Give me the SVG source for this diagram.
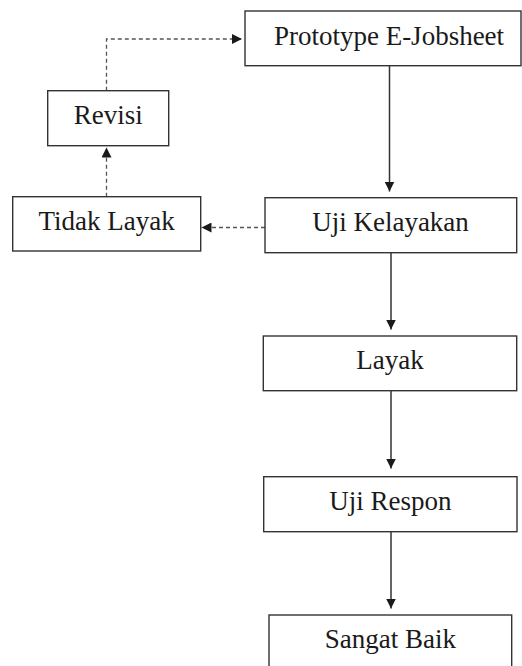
<svg xmlns="http://www.w3.org/2000/svg" width="522" height="666" viewBox="0 0 522 666">
<defs>
<marker id="ah" markerWidth="10" markerHeight="10" refX="10" refY="5" orient="auto" markerUnits="userSpaceOnUse" viewBox="0 0 10 10">
<path d="M0,0 L10,5 L0,10 Z" fill="#1a1a1a"/>
</marker>
<style>
.box{fill:#fff;stroke:#333;stroke-width:1.4}
.lbl{font-family:"Liberation Serif","Times New Roman",serif;font-size:27px;fill:#1a1a1a;text-anchor:middle}
.solid{fill:none;stroke:#333;stroke-width:1.5}
.dash{fill:none;stroke:#555;stroke-width:1.3;stroke-dasharray:4 3}
</style>
</defs>
<rect width="522" height="666" fill="#fff"/>
<g id="connectors">
<path class="solid" d="M389.5,65.7 V191.5" marker-end="url(#ah)"/>
<path class="solid" d="M391,252.7 V329.5" marker-end="url(#ah)"/>
<path class="solid" d="M391,390.7 V468.5" marker-end="url(#ah)"/>
<path class="solid" d="M391,531.7 V608.5" marker-end="url(#ah)"/>
<path class="dash" d="M265,227.5 H201.5" marker-end="url(#ah)"/>
<path class="dash" d="M106.5,196.7 V147.5" marker-end="url(#ah)"/>
<path class="dash" d="M106.5,90.7 V39 H242" marker-end="url(#ah)"/>
</g>
<g id="prototype">
<rect class="box" x="245" y="11" width="276" height="54.7"/>
<text class="lbl" x="389" y="44.5">Prototype E-Jobsheet</text>
</g>
<g id="revisi">
<rect class="box" x="47.7" y="90.7" width="121" height="55"/>
<text class="lbl" x="108.2" y="124">Revisi</text>
</g>
<g id="tidak-layak">
<rect class="box" x="12.7" y="196.7" width="188" height="54.3"/>
<text class="lbl" x="106.7" y="230">Tidak Layak</text>
</g>
<g id="uji-kelayakan">
<rect class="box" x="265" y="197.7" width="251.7" height="55"/>
<text class="lbl" x="390.5" y="231">Uji Kelayakan</text>
</g>
<g id="layak">
<rect class="box" x="263.3" y="336" width="253.4" height="54.7"/>
<text class="lbl" x="390" y="369.3">Layak</text>
</g>
<g id="uji-respon">
<rect class="box" x="263.7" y="476.7" width="253.3" height="55"/>
<text class="lbl" x="390.3" y="510">Uji Respon</text>
</g>
<g id="sangat-baik">
<rect class="box" x="269" y="615" width="242.7" height="60"/>
<text class="lbl" x="390.3" y="648.3">Sangat Baik</text>
</g>
</svg>
